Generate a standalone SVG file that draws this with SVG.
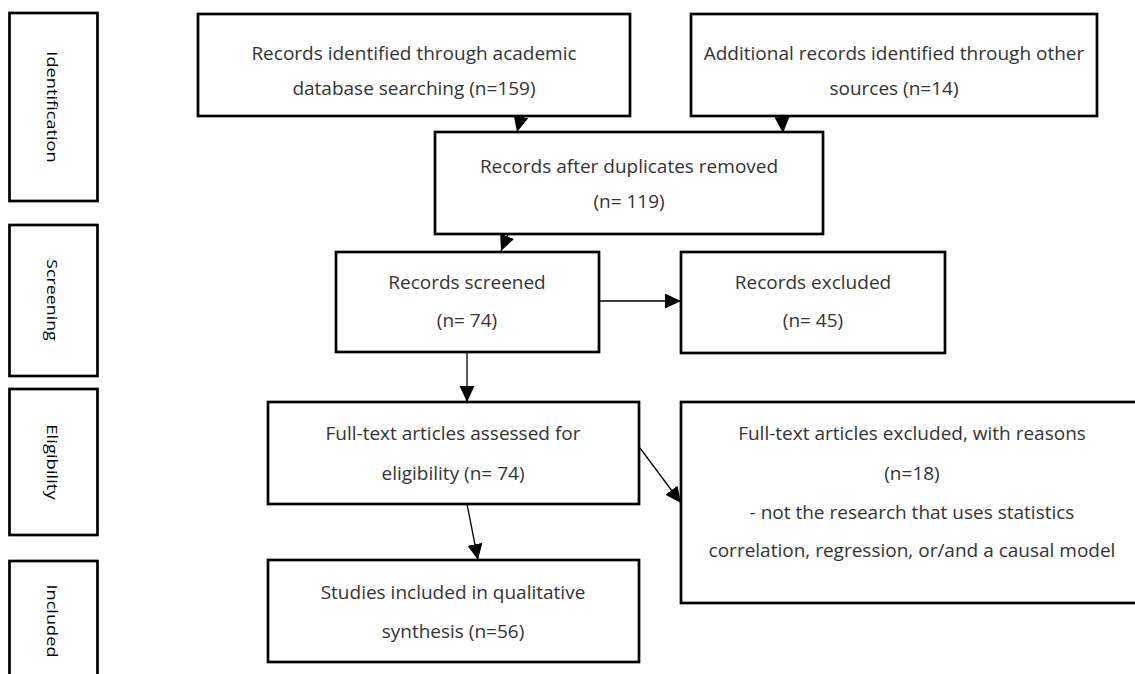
<svg xmlns="http://www.w3.org/2000/svg" width="1135" height="674" viewBox="0 0 1135 674">
<defs>
<style>
.box{fill:#fff;stroke:#000;stroke-width:2.7}
.t{font-family:"Open Sans","Noto Sans",sans-serif;font-size:19px;fill:#333;text-anchor:middle;dominant-baseline:central}
.s{font-family:"Open Sans","Noto Sans",sans-serif;font-size:14px;fill:#000;text-anchor:middle}
.c{fill:none;stroke:#000;stroke-width:1.3;marker-end:url(#ah)}
</style>
<marker id="ah" markerUnits="userSpaceOnUse" markerWidth="17" markerHeight="16" refX="16" refY="7.5" orient="auto">
<path d="M0,0 L16,7.5 L0,15 z" fill="#000"/>
</marker>
</defs>
<rect width="1135" height="674" fill="#fff"/>

<g id="stage-identification">
<rect class="box" x="9.5" y="13" width="88" height="188"/>
<text class="s" transform="translate(46.5,107) rotate(90) scale(1.3,1)">Identification</text>
</g>
<g id="stage-screening">
<rect class="box" x="9.5" y="225" width="88" height="151"/>
<text class="s" transform="translate(46.5,300) rotate(90) scale(1.27,1)">Screening</text>
</g>
<g id="stage-eligibility">
<rect class="box" x="9.5" y="389" width="88" height="146"/>
<text class="s" transform="translate(46.5,462) rotate(90) scale(1.32,1)">Eligibility</text>
</g>
<g id="stage-included">
<rect class="box" x="9.5" y="561" width="88" height="140"/>
<text class="s" transform="translate(46.5,621) rotate(90) scale(1.3,1)">Included</text>
</g>

<g id="n-database">
<rect class="box" x="198" y="14" width="432" height="102"/>
<text class="t" x="414" y="53">Records identified through academic</text>
<text class="t" x="414" y="88">database searching (n=159)</text>
</g>
<g id="n-other">
<rect class="box" x="691" y="14" width="406" height="102"/>
<text class="t" x="894" y="53">Additional records identified through other</text>
<text class="t" x="894" y="88">sources (n=14)</text>
</g>
<g id="n-dedup">
<rect class="box" x="435" y="132" width="388" height="102"/>
<text class="t" x="629" y="166">Records after duplicates removed</text>
<text class="t" x="629" y="201">(n= 119)</text>
</g>
<g id="n-screened">
<rect class="box" x="336" y="252" width="263" height="100"/>
<text class="t" x="467" y="282">Records screened</text>
<text class="t" x="467" y="320">(n= 74)</text>
</g>
<g id="n-excluded">
<rect class="box" x="681" y="252" width="264" height="101"/>
<text class="t" x="813" y="282">Records excluded</text>
<text class="t" x="813" y="320">(n= 45)</text>
</g>
<g id="n-fulltext">
<rect class="box" x="268" y="402" width="371" height="102"/>
<text class="t" x="453" y="433">Full-text articles assessed for</text>
<text class="t" x="453" y="473">eligibility (n= 74)</text>
</g>
<g id="n-fulltext-excluded">
<rect class="box" x="681" y="402" width="470" height="201"/>
<text class="t" x="912" y="433">Full-text articles excluded, with reasons</text>
<text class="t" x="912" y="473">(n=18)</text>
<text class="t" x="912" y="512">- not the research that uses statistics</text>
<text class="t" x="912" y="550">correlation, regression, or/and a causal model</text>
</g>
<g id="n-included">
<rect class="box" x="268" y="560" width="371" height="102"/>
<text class="t" x="453" y="592">Studies included in qualitative</text>
<text class="t" x="453" y="631">synthesis (n=56)</text>
</g>

<g id="connectors">
<path class="c" d="M521,116 L517,132"/>
<path class="c" d="M782,116 L783,133"/>
<path class="c" d="M508,234 L501,251"/>
<path class="c" d="M599,301 L681,301"/>
<path class="c" d="M467,352 L467,402"/>
<path class="c" d="M467,504 L478,560"/>
<path class="c" d="M640,448 L681,503"/>
</g>
</svg>
